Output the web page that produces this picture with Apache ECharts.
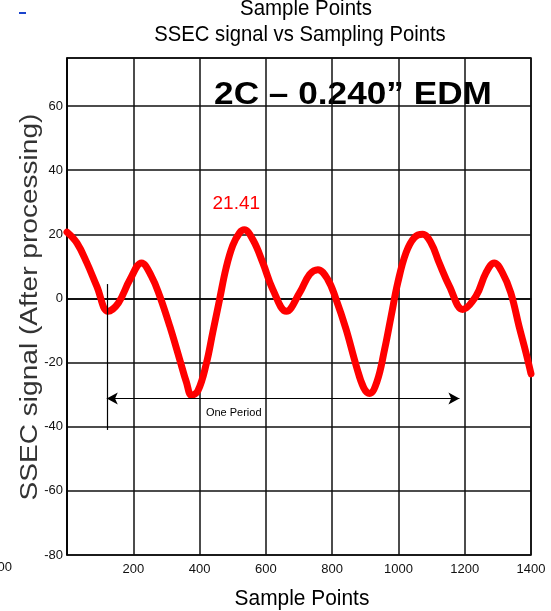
<!DOCTYPE html>
<html>
<head>
<meta charset="utf-8">
<script src="https://cdn.jsdelivr.net/npm/echarts@6/dist/echarts.min.js"></script>
<style>html,body{margin:0;padding:0;background:#fff;}#c{width:551px;height:611px;}</style>
</head>
<body>
<div id="c"></div>
<script>
// Sample positions and SSEC signal values
var samplePoints = [0, 30, 60, 90, 124, 155, 190, 225, 255, 280, 310, 340, 360, 376, 395, 420, 440, 460, 480, 500, 520, 535, 561, 591, 621, 662, 702, 732, 757, 787, 812, 842, 873, 895, 913, 935, 958, 978, 998, 1023, 1048, 1073, 1098, 1123, 1154, 1194, 1234, 1264, 1289, 1314, 1339, 1364, 1385, 1400];
var ssecSignal = [20.7, 17.3, 11.1, 3.8, -4.0, -1.4, 5.9, 11.1, 6.9, 0.7, -8.6, -19.0, -26.0, -30.2, -28.8, -20.5, -10.5, -0.5, 9.5, 16.5, 20.4, 21.41, 18.3, 11.1, 2.8, -4.0, 1.8, 7.5, 9.0, 5.9, -0.3, -9.6, -21.1, -27.8, -29.6, -26.0, -16.0, -5.5, 4.9, 14.3, 19.0, 20.0, 17.4, 11.1, 3.8, -3.4, 0.7, 8.0, 11.1, 8.0, 1.8, -8.7, -17.0, -23.5];
var xTicks = [0, 200, 400, 600, 800, 1000, 1200, 1400];
var yTicks = [-80, -60, -40, -20, 0, 20, 40, 60];
// One-period annotation (sample points / signal)
var periodStart = 120, periodEnd = 1184, periodArrowY = -31.2;
var periodTickTop = 4.5, periodTickBottom = -41;
var periodLabelPos = [503, -35.6];

var sans = "'Liberation Sans', Arial, sans-serif";
var chart = echarts.init(document.getElementById('c'));
var lineData = samplePoints.map(function (x, i) { return [x, ssecSignal[i]]; });

chart.setOption({
  animation: false,
  backgroundColor: '#fff',
  grid: { left: 67, right: 20, top: 58, bottom: 56, show: true, borderColor: '#000', borderWidth: 1.5 },
  xAxis: {
    type: 'value', min: xTicks[0], max: xTicks[xTicks.length - 1], interval: 200,
    axisLine: { show: true, lineStyle: { color: '#000', width: 1.5 } },
    axisTick: { show: false },
    axisLabel: { showMinLabel: false, color: '#111', fontFamily: sans, fontSize: 13, margin: 8,
      formatter: function (v) { return String(v); } },
    splitLine: { show: true, lineStyle: { color: '#111', width: 1.5 } }
  },
  yAxis: {
    type: 'value', min: yTicks[0], max: 75, interval: 20,
    axisLine: { show: true, lineStyle: { color: '#000', width: 1.5 } },
    axisTick: { show: false },
    axisLabel: { showMaxLabel: false, color: '#111', fontFamily: sans, fontSize: 13, margin: 4,
      formatter: function (v) { return yTicks.indexOf(v) >= 0 ? String(v) : ''; } },
    splitLine: { show: true, lineStyle: { color: '#111', width: 1.5 } }
  },
  series: [{
    type: 'line',
    data: lineData,
    smooth: 0.4,
    symbol: 'none',
    lineStyle: { color: '#ff0000', width: 7, join: 'round', cap: 'round' },
    markPoint: {
      symbol: 'circle', symbolSize: 0,
      label: { show: true, color: '#ff0000', fontSize: 19, fontFamily: sans, offset: [-8, -26],
        formatter: function (p) { return p.value; } },
      data: [{ type: 'max' },
        { coord: periodLabelPos, value: 'One Period',
          label: { color: '#000', fontSize: 11, fontFamily: sans, offset: [0, 0], formatter: 'One Period' } }]
    },
    markLine: {
      silent: true,
      label: { show: false },
      lineStyle: { color: '#000', width: 1.2, type: 'solid' },
      data: [
        [{ coord: [periodStart, periodTickTop], symbol: 'none' }, { coord: [periodStart, periodTickBottom], symbol: 'none' }],
        [{ coord: [periodStart, periodArrowY], symbol: 'arrow', symbolSize: [9, 11] },
         { coord: [periodEnd, periodArrowY], symbol: 'arrow', symbolSize: [9, 11] }]
      ]
    }
  }],
  graphic: [
    { type: 'rect', shape: { x: 19, y: 12, width: 7, height: 2 }, style: { fill: '#1a44cc' } },
    { type: 'text', x: 306, y: 9, scaleX: 0.93, style: { text: 'Sample Points', fill: '#000', font: "22px " + sans, textAlign: 'center', textVerticalAlign: 'middle' } },
    { type: 'text', x: 300, y: 35, scaleX: 0.92, style: { text: 'SSEC signal vs Sampling Points', fill: '#000', font: "22px " + sans, textAlign: 'center', textVerticalAlign: 'middle' } },
    { type: 'text', x: 353, y: 95, scaleX: 1.1, style: { text: '2C \u2013 0.240\u201d EDM', fill: '#000', font: "bold 32px " + sans, textAlign: 'center', textVerticalAlign: 'middle' } },
    { type: 'text', x: 31, y: 307, rotation: Math.PI / 2, scaleX: 1.22, style: { text: 'SSEC signal (After processing)', fill: '#333', font: "23px " + sans, textAlign: 'center', textVerticalAlign: 'middle' } },
    { type: 'text', x: 302, y: 599, scaleX: 0.95, style: { text: 'Sample Points', fill: '#000', font: "22px " + sans, textAlign: 'center', textVerticalAlign: 'middle' } },
    { type: 'text', x: 12, y: 567, style: { text: '00', fill: '#111', font: "13px " + sans, textAlign: 'right', textVerticalAlign: 'middle' } }
  ]
});
</script>
</body>
</html>
